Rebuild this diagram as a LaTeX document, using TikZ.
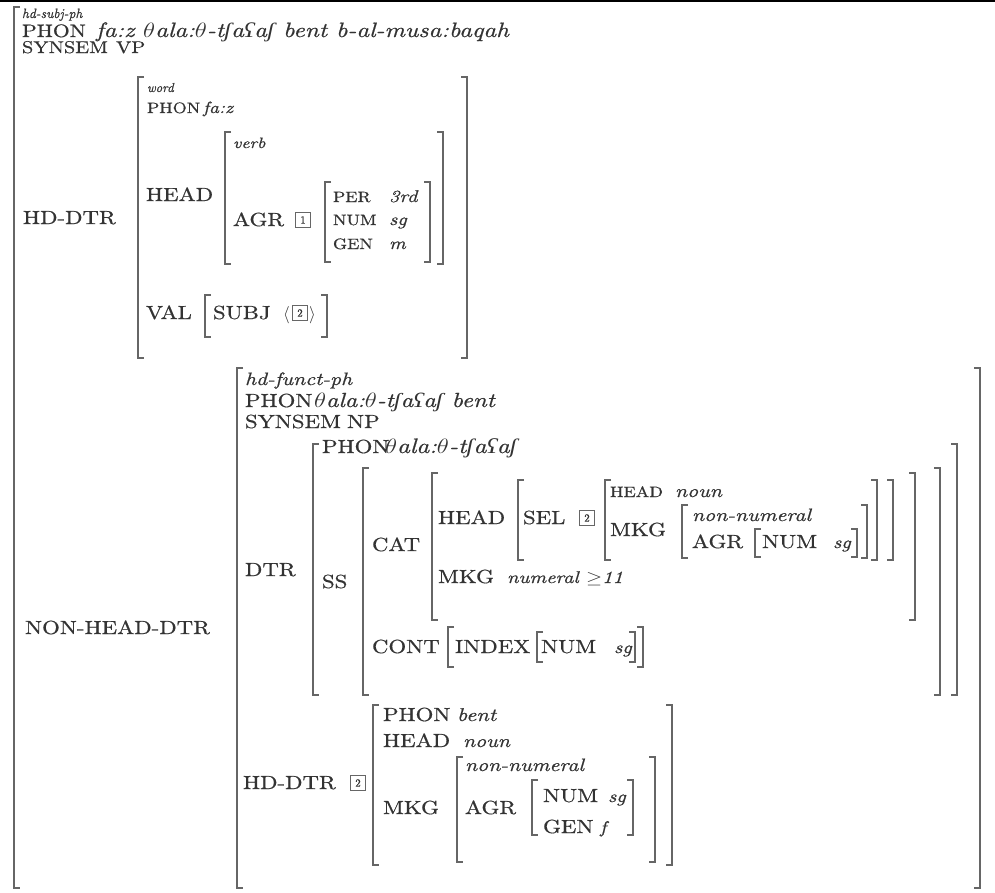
\documentclass[tikz,border=0pt]{standalone}
\usepackage{fontspec}
\usepackage{graphicx}
\setmainfont{lmroman10}[Extension=.otf, UprightFont=*-regular, ItalicFont=*-italic, BoldFont=*-bold, UprightFeatures={FakeBold=0.6}, ItalicFeatures={FakeBold=0.6}]
\newfontfamily\phf{Liberation Serif}
\newcommand\sx[1]{\scalebox{1.2}[1]{#1}}
\newcommand\ipa[1]{{\phf #1}}
\newcommand\thalaW{$\theta$ala:$\theta$-t\ipa{ʃ}a\ipa{ʕ}a\ipa{ʃ}}
\definecolor{txt}{gray}{0.2}
\definecolor{brc}{gray}{0.40}
\newcommand\lbr[3]{\draw[br] ({#1+6},#2) -- (#1,#2) -- (#1,#3) -- ({#1+6},#3);}
\newcommand\rbr[3]{\draw[br] ({#1-6},#2) -- (#1,#2) -- (#1,#3) -- ({#1-6},#3);}
\tikzset{
  t/.style={anchor=base west, inner sep=0pt, outer sep=0pt, text=txt},
  lab/.style={t, font=\fontsize{19}{19}\selectfont},
  labT/.style={t, font=\fontsize{18}{18}\selectfont},
  labS/.style={t, font=\fontsize{17}{17}\selectfont},
  labm/.style={t, font=\fontsize{15}{15}\selectfont},
  sc/.style={t, font=\fontsize{15}{15}\selectfont},
  it/.style={t, font=\fontsize{#1}{#1}\selectfont\itshape},
  tg/.style={draw=brc, line width=0.8pt, text=txt, inner sep=0pt, minimum width=15pt, minimum height=15pt, font=\fontsize{11}{11}\selectfont},
  br/.style={draw=brc, line width=1.3pt},
}
\begin{document}
\begin{tikzpicture}[x=1pt,y=-1pt]
\useasboundingbox (0,0) rectangle (995,892);
\draw[line width=2.5pt] (0,1.2) -- (995,1.2);
% outer AVM
\lbr{14}{7}{888}
\node[it=13.5] (t0) at (22,18) {hd-subj-ph};
\node[labT] (p0) at (22,37) {\sx{PHON}};
\node[it=20.8] (p0v) at (96,37) {\sx{fa:z \thalaW{} bent b-al-musa:baqah}};
\node[labS] (s0) at (22,53) {\sx{SYNSEM}};
\node[labS] (s0v) at (116,53) {\sx{VP}};
% HD-DTR
\node[lab] (hd) at (23,224) {\sx{HD-DTR}};
\lbr{138}{77}{358} \rbr{467}{77}{358}
\node[it=13] (w) at (147,92) {word};
\node[labm] (wp) at (147,113) {\sx{PHON}};
\node[it=16.3] (wpv) at (203,113) {\sx{fa:z}};
\node[lab] (hh) at (146,201) {\sx{HEAD}};
\lbr{225}{132}{264} \rbr{443}{132}{264}
\node[it=15] (verb) at (233,148) {\sx{verb}};
\node[lab] (agr1) at (233,226) {\sx{AGR}};
\node[tg] (tg1) at (303,220) {1};
\lbr{325}{182}{262} \rbr{430}{182}{262}
\node[sc] (per) at (333,202) {\sx{PER}};
\node[it=17] (perv) at (389,202) {\sx{3rd}};
\node[sc] (num1) at (333,225) {\sx{NUM}};
\node[it=17] (num1v) at (389,225) {\sx{sg}};
\node[sc] (gen1) at (333,249) {\sx{GEN}};
\node[it=17] (gen1v) at (389,249) {\sx{m}};
\node[lab] (val) at (146,319) {\sx{VAL}};
\lbr{205}{295}{337} \rbr{327}{295}{337}
\node[lab] (subj) at (213,319) {\sx{SUBJ}};
\node[lab] (la) at (283,319) {$\langle$};
\node[tg] (tg2a) at (300,313) {2};
\node[lab] (ra) at (309,319) {$\rangle$};
% NON-HEAD-DTR
\node[lab] (nhd) at (25,634) {\sx{NON-HEAD-DTR}};
\lbr{237}{368}{888} \rbr{980}{368}{888}
\node[it=18] (hf) at (245,385) {\sx{hd-funct-ph}};
\node[lab] (hfp) at (245,407) {\sx{PHON}};
\node[it=20.4] (hfpv) at (314,407) {\sx{\thalaW{} bent}};
\node[lab] (hfs) at (245,428) {\sx{SYNSEM}};
\node[lab] (hfsv) at (347,428) {\sx{NP}};
% DTR
\node[lab] (dtr) at (245,576) {\sx{DTR}};
\lbr{313}{444}{695} \rbr{957}{444}{695}
\node[lab] (dp) at (322,453) {\sx{PHON}};
\node[it=21] (dpv) at (385,453) {\sx{\thalaW}};
\node[lab] (ss) at (322,588) {\sx{SS}};
\lbr{363}{468}{695} \rbr{940}{468}{695}
\node[lab] (cat) at (372,551) {\sx{CAT}};
\lbr{432}{473}{620} \rbr{915}{473}{620}
\node[lab] (ch) at (438,524) {\sx{HEAD}};
\lbr{518}{480}{560} \rbr{893}{480}{560}
\node[lab] (sel) at (523,524) {\sx{SEL}};
\node[tg] (tg2b) at (587,518) {2};
\lbr{605}{480}{560} \rbr{877}{480}{560}
\node[sc] (sh) at (610,497) {\sx{HEAD}};
\node[it=18] (shv) at (675,497) {\sx{noun}};
\node[lab] (smk) at (610,536) {\sx{MKG}};
\lbr{682}{505}{558} \rbr{867}{505}{558}
\node[it=18] (snn) at (692,521) {\sx{non-numeral}};
\node[lab] (sagr) at (692,548) {\sx{AGR}};
\lbr{755}{529}{557} \rbr{857}{529}{557}
\node[lab] (snum) at (762,548) {\sx{NUM}};
\node[it=17] (snumv) at (833,548) {\sx{sg}};
\node[lab] (cmk) at (438,583) {\sx{MKG}};
\node[it=17] (cmkv) at (507,583) {\sx{numeral $\geq$11}};
\node[lab] (cont) at (372,653) {\sx{CONT}};
\lbr{448}{627}{667} \rbr{643}{627}{667}
\node[lab] (idx) at (455,653) {\sx{INDEX}};
\lbr{537}{632}{662} \rbr{635}{632}{662}
\node[lab] (inum) at (541,653) {\sx{NUM}};
\node[it=17] (inumv) at (614,653) {\sx{sg}};
% HD-DTR of hd-funct-ph
\node[lab] (hd2) at (243,789) {\sx{HD-DTR}};
\node[tg] (tg2c) at (358,783) {2};
\lbr{373}{705}{865} \rbr{672}{705}{865}
\node[lab] (bp) at (383,721) {\sx{PHON}};
\node[it=18.5] (bpv) at (457,721) {\sx{bent}};
\node[lab] (bh) at (383,747) {\sx{HEAD}};
\node[it=18] (bhv) at (463,747) {\sx{noun}};
\node[lab] (bm) at (383,814) {\sx{MKG}};
\lbr{457}{757}{862} \rbr{655}{757}{862}
\node[it=18] (bnn) at (465,771) {\sx{non-numeral}};
\node[lab] (bagr) at (465,814) {\sx{AGR}};
\lbr{532}{780}{835} \rbr{633}{780}{835}
\node[lab] (bnum) at (543,802) {\sx{NUM}};
\node[it=17] (bnumv) at (608,802) {\sx{sg}};
\node[lab] (bgen) at (543,833) {\sx{GEN}};
\node[it=17] (bgenv) at (600,833) {\sx{f}};
\end{tikzpicture}
\end{document}
